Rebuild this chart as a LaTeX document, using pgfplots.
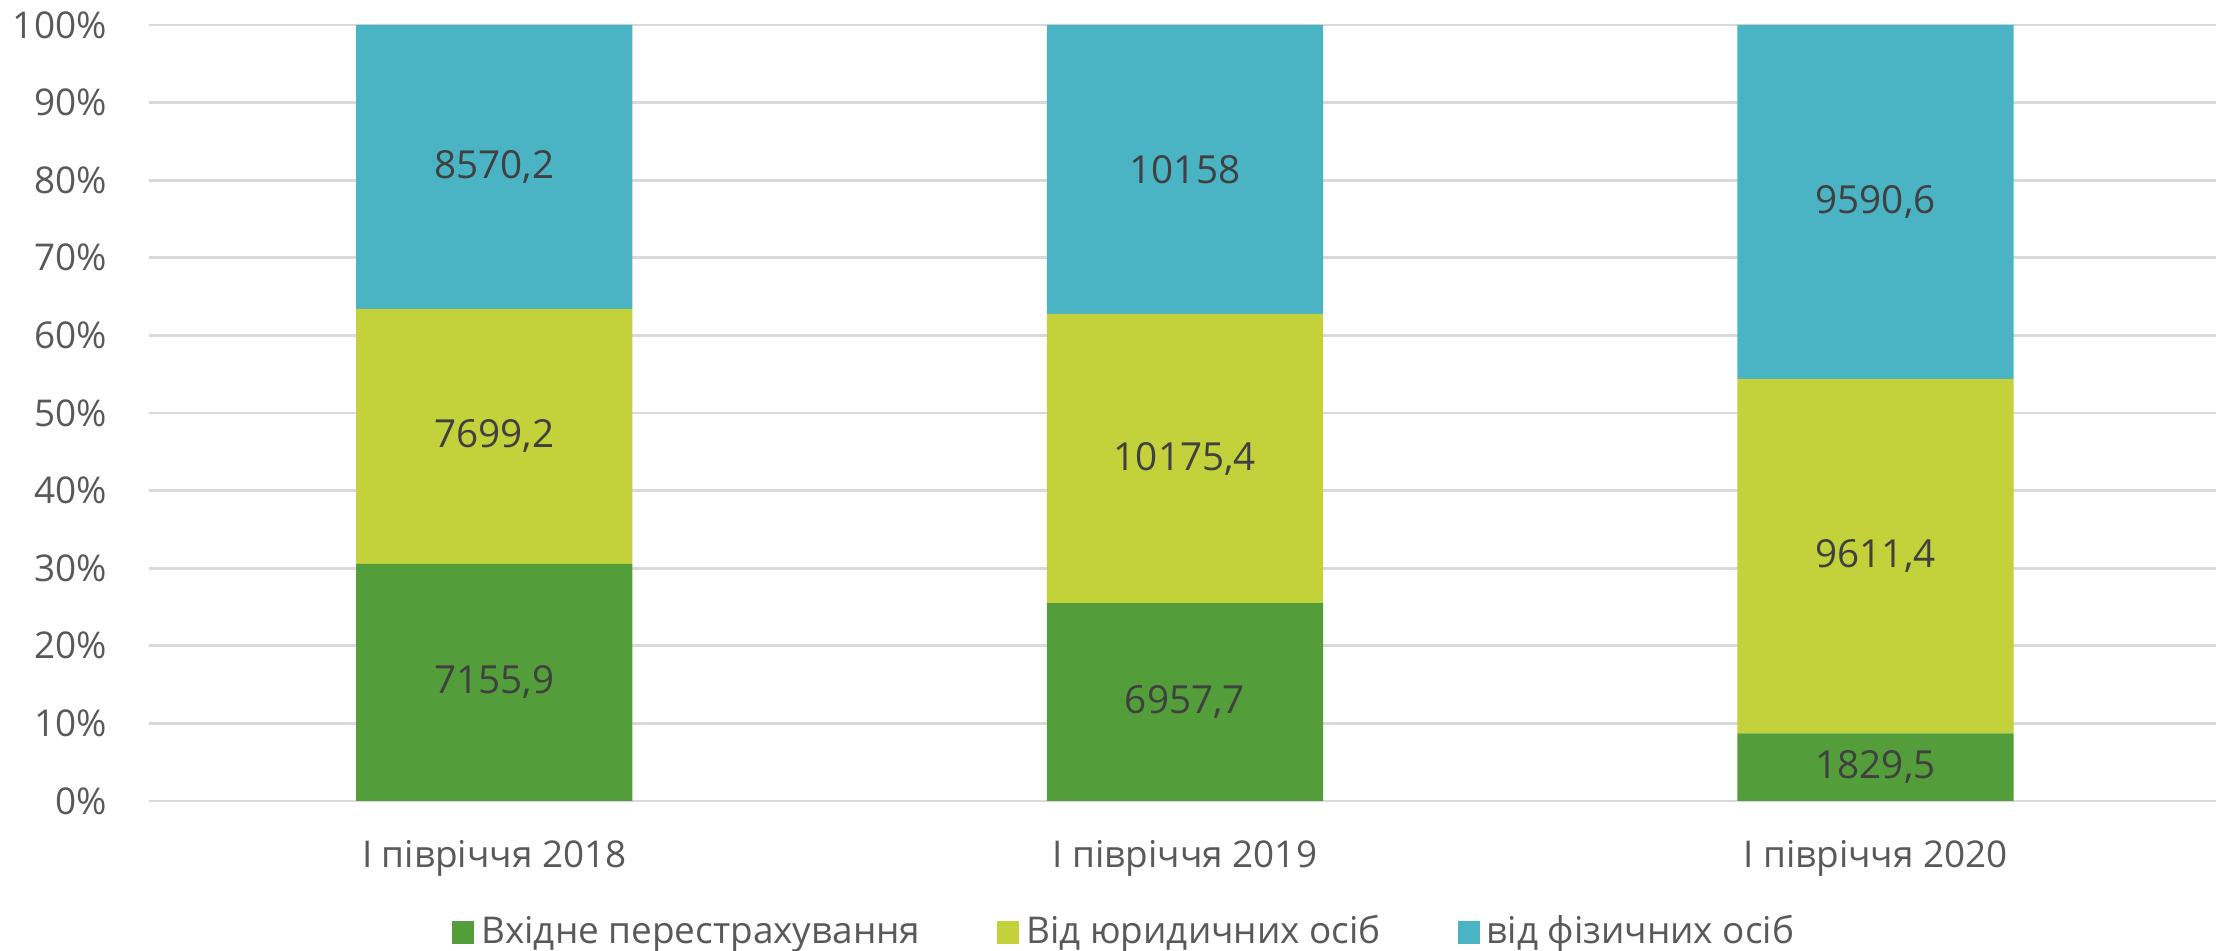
\documentclass[border=0pt]{standalone}
\usepackage{fontspec}
\setmainfont{Open Sans}
\usepackage{pgfplots}
\usepackage{pgfplotstable}
\pgfplotsset{compat=1.18}
\usetikzlibrary{calc}

\definecolor{cgreen}{HTML}{539E3A}
\definecolor{cyellow}{HTML}{C3D13B}
\definecolor{cteal}{HTML}{4AB4C5}
\definecolor{cgrid}{HTML}{D9D9D9}
\definecolor{ctick}{HTML}{595959}
\definecolor{clabel}{HTML}{404040}

% premiums by source, half-year totals
\pgfplotstableread{
x a b c
0 7155.9 7699.2 8570.2
1 6957.7 10175.4 10158
2 1829.5 9611.4 9590.6
}\premiums

\begin{document}
\begin{tikzpicture}
\pgfplotsset{base/.style={
  scale only axis,width=20.67cm,height=7.76cm,
  xmin=-0.5,xmax=2.493,ymin=0,ymax=100}}
\begin{axis}[base,name=main,
 ybar stacked,bar width=0.4,
 xtick={0,1,2},
 xticklabels={I півріччя 2018,I півріччя 2019,I півріччя 2020},
 ytick={0,10,...,100},
 yticklabels={0\%,10\%,20\%,30\%,40\%,50\%,60\%,70\%,80\%,90\%,100\%},
 major tick length=0pt,
 axis lines*=left,axis line style={draw=none},
 ymajorgrids=true,grid style={cgrid,line width=0.8pt},
 tick label style={font=\fontsize{10.5}{12}\selectfont,text=ctick},
 yticklabel style={anchor=east,xshift=-0.3cm},
 xticklabel style={anchor=base,yshift=-0.67cm},
 legend style={at={(0.473,-0.169)},anchor=center,legend columns=-1,
   draw=none,fill=none,font=\fontsize{10.5}{12}\selectfont,text=ctick,
   /tikz/every even column/.append style={column sep=0.7cm}},
 legend image code/.code={\draw[#1,draw=none] (0cm,-0.115cm) rectangle (0.22cm,0.115cm);},
]
\addplot[fill=cgreen,draw=none] table[x=x,y expr=100*\thisrow{a}/(\thisrow{a}+\thisrow{b}+\thisrow{c})]{\premiums};
\addplot[fill=cyellow,draw=none] table[x=x,y expr=100*\thisrow{b}/(\thisrow{a}+\thisrow{b}+\thisrow{c})]{\premiums};
\addplot[fill=cteal,draw=none] table[x=x,y expr=100*\thisrow{c}/(\thisrow{a}+\thisrow{b}+\thisrow{c})]{\premiums};
\legend{Вхідне перестрахування,Від юридичних осіб,від фізичних осіб}
\end{axis}
% value labels centred in each segment
\begin{axis}[base,hide axis,
 nodes near coords,
 every node near coord/.append style={anchor=center,font=\fontsize{11}{13}\selectfont,text=clabel,
   /pgf/number format/fixed,/pgf/number format/precision=1,
   /pgf/number format/use comma,/pgf/number format/1000 sep={},
   /pgf/number format/assume math mode=true},
 lbl/.style={draw=none,mark=none},
]
\addplot[lbl,point meta=\thisrow{a}]
 table[x=x,y expr=100*(0.5*\thisrow{a})/(\thisrow{a}+\thisrow{b}+\thisrow{c})]{\premiums};
\addplot[lbl,point meta=\thisrow{b}]
 table[x=x,y expr=100*(\thisrow{a}+0.5*\thisrow{b})/(\thisrow{a}+\thisrow{b}+\thisrow{c})]{\premiums};
\addplot[lbl,point meta=\thisrow{c}]
 table[x=x,y expr=100*(\thisrow{a}+\thisrow{b}+0.5*\thisrow{c})/(\thisrow{a}+\thisrow{b}+\thisrow{c})]{\premiums};
\end{axis}
\pgfresetboundingbox
\path[use as bounding box] ($(main.south west)+(-1.49cm,-1.50cm)$) rectangle ($(main.north east)+(0,0.25cm)$);
\end{tikzpicture}
\end{document}
